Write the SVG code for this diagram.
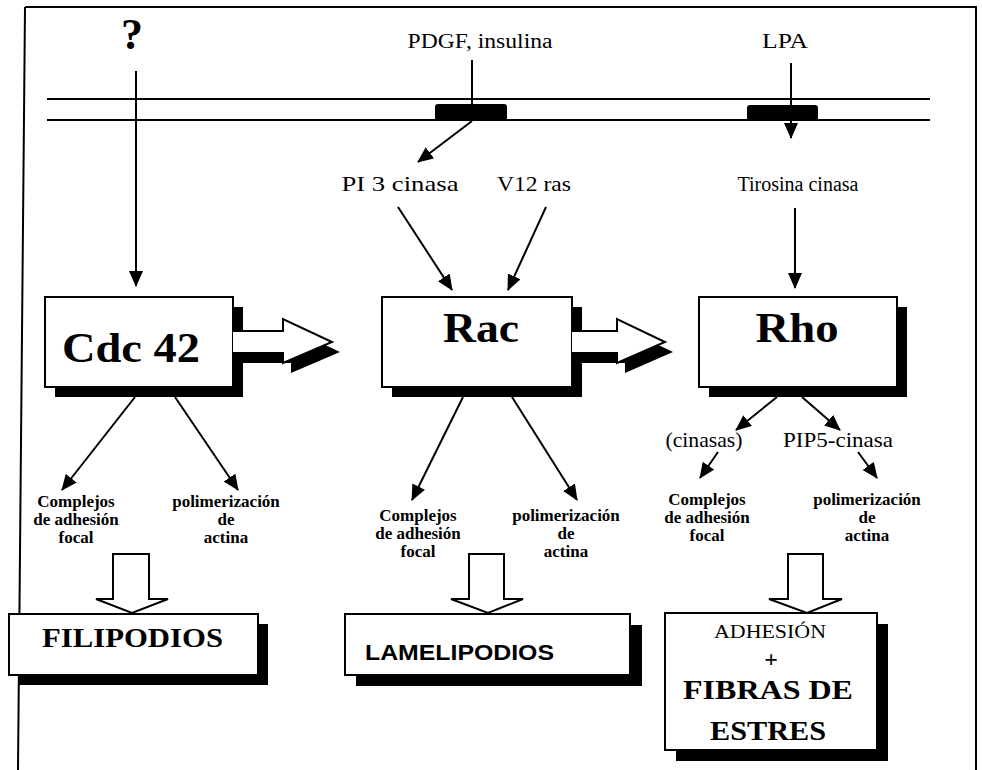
<svg xmlns="http://www.w3.org/2000/svg" width="982" height="770" viewBox="0 0 982 770">
<style>
.t{font-family:"Liberation Serif","Times New Roman",serif;fill:#000}
.b{font-weight:bold}
.s{font-family:"Liberation Sans",Arial,sans-serif;font-weight:900;fill:#000}
.m{text-anchor:middle}
.ln{stroke:#000;stroke-width:2;fill:none}
.box{fill:#fff;stroke:#000;stroke-width:2}
.sh{fill:#000}
.rc{fill:#000}
</style>
<defs>
<marker id="ah" markerUnits="userSpaceOnUse" markerWidth="16" markerHeight="14" refX="15" refY="7" orient="auto"><path d="M0,0 L16,7 L0,14 z" fill="#000"/></marker>
</defs>
<rect x="0" y="0" width="982" height="770" fill="#fff"/>
<g id="frame">
<path class="ln" d="M25,7 L976,7 L976,770 M25,7 L18,770"/>
</g>
<g id="membrane">
<line class="ln" x1="47" y1="99" x2="930" y2="99"/>
<line class="ln" x1="47" y1="120" x2="930" y2="120"/>
<rect class="rc" x="435" y="104" width="72" height="17" rx="3"/>
<rect class="rc" x="747" y="105" width="71" height="16" rx="3"/>
</g>
<g id="signals">
<text class="t b m" x="132" y="49" font-size="44">?</text>
<text class="t m" x="480" y="48" font-size="20" textLength="145" lengthAdjust="spacingAndGlyphs">PDGF, insulina</text>
<text class="t m" x="785" y="48" font-size="20" textLength="46" lengthAdjust="spacingAndGlyphs">LPA</text>
<text class="t m" x="400" y="191" font-size="21" textLength="117" lengthAdjust="spacingAndGlyphs">PI 3 cinasa</text>
<text class="t m" x="534" y="191" font-size="21" textLength="74" lengthAdjust="spacingAndGlyphs">V12 ras</text>
<text class="t m" x="798" y="191" font-size="20">Tirosina cinasa</text>
</g>
<g id="cdc42">
<rect class="sh" x="55" y="307" width="188" height="90"/>
<path class="sh" transform="translate(8,10)" d="M233,331 L283,331 L283,319 L332,342 L283,363 L283,353 L233,353 z"/>
<rect class="box" x="45" y="297" width="188" height="90"/>
<path d="M233,331 L283,331 L283,319 L332,342 L283,363 L283,353 L233,353 z" fill="#fff"/>
<path class="ln" d="M233,331 L283,331 L283,319 L332,342 L283,363 L283,353 L233,353"/>
<text class="t b m" x="131" y="362" font-size="42" textLength="138" lengthAdjust="spacingAndGlyphs">Cdc 42</text>
</g>
<g id="rac">
<rect class="sh" x="392" y="307" width="190" height="90"/>
<path class="sh" transform="translate(8,10)" d="M572,331 L617,331 L617,319 L665,342 L617,363 L617,353 L572,353 z"/>
<rect class="box" x="382" y="297" width="190" height="90"/>
<path d="M572,331 L617,331 L617,319 L665,342 L617,363 L617,353 L572,353 z" fill="#fff"/>
<path class="ln" d="M572,331 L617,331 L617,319 L665,342 L617,363 L617,353 L572,353"/>
<text class="t b m" x="481" y="342" font-size="42" textLength="76" lengthAdjust="spacingAndGlyphs">Rac</text>
</g>
<g id="rho">
<rect class="sh" x="709" y="307" width="198" height="90"/>
<rect class="box" x="699" y="297" width="198" height="90"/>
<text class="t b m" x="797" y="342" font-size="42" textLength="83" lengthAdjust="spacingAndGlyphs">Rho</text>
</g>
<g id="rho-labels">
<text class="t m" x="704" y="447" font-size="21" textLength="77" lengthAdjust="spacingAndGlyphs">(cinasas)</text>
<text class="t m" x="838" y="447" font-size="21" textLength="110" lengthAdjust="spacingAndGlyphs">PIP5-cinasa</text>
</g>
<g id="cdc42-effects" class="t b m" font-size="17">
<text x="76" y="507">Complejos</text>
<text x="76" y="525">de adhesión</text>
<text x="76" y="543">focal</text>
<text x="226" y="507">polimerización</text>
<text x="226" y="525">de</text>
<text x="226" y="543">actina</text>
</g>
<g id="rac-effects" class="t b m" font-size="17">
<text x="418" y="521">Complejos</text>
<text x="418" y="539">de adhesión</text>
<text x="418" y="557">focal</text>
<text x="566" y="521">polimerización</text>
<text x="566" y="539">de</text>
<text x="566" y="557">actina</text>
</g>
<g id="rho-effects" class="t b m" font-size="17">
<text x="707" y="505">Complejos</text>
<text x="707" y="523">de adhesión</text>
<text x="707" y="541">focal</text>
<text x="867" y="505">polimerización</text>
<text x="867" y="523">de</text>
<text x="867" y="541">actina</text>
</g>
<g id="filipodios">
<path class="box" d="M113,554 L149,554 L149,599 L168,599 L132,613 L96,599 L113,599 z"/>
<rect class="sh" x="19" y="624" width="249" height="61"/>
<rect class="box" x="9" y="614" width="249" height="61"/>
<text class="t b m" x="132.5" y="647" font-size="27" textLength="181" lengthAdjust="spacingAndGlyphs">FILIPODIOS</text>
</g>
<g id="lamelipodios">
<path class="box" d="M469,554 L504,554 L504,599 L523,599 L488,613 L451,599 L469,599 z"/>
<rect class="sh" x="356" y="625" width="286" height="61"/>
<rect class="box" x="345" y="614" width="285" height="61"/>
<text class="s" x="365" y="660" font-size="22" textLength="189" lengthAdjust="spacingAndGlyphs">LAMELIPODIOS</text>
</g>
<g id="fibras">
<path class="box" d="M788,554 L823,554 L823,599 L842,599 L807,613 L769,599 L788,599 z"/>
<rect class="sh" x="676" y="624" width="212" height="137"/>
<rect class="box" x="665" y="613" width="212" height="137"/>
<text class="t m" x="770" y="638" font-size="19" textLength="112" lengthAdjust="spacingAndGlyphs">ADHESIÓN</text>
<text class="t b m" x="771" y="667" font-size="24">+</text>
<text class="t b m" x="768" y="699" font-size="28" textLength="170" lengthAdjust="spacingAndGlyphs">FIBRAS DE</text>
<text class="t b m" x="768" y="740" font-size="28" textLength="116" lengthAdjust="spacingAndGlyphs">ESTRES</text>
</g>
<g id="connectors" class="ln">
<line x1="136" y1="71" x2="136" y2="286" marker-end="url(#ah)"/>
<line x1="472" y1="60" x2="472" y2="104"/>
<line x1="472" y1="121" x2="418" y2="162" marker-end="url(#ah)"/>
<line x1="791" y1="63" x2="791" y2="138" marker-end="url(#ah)"/>
<line x1="398" y1="207" x2="452" y2="290" marker-end="url(#ah)"/>
<line x1="546" y1="207" x2="508" y2="290" marker-end="url(#ah)"/>
<line x1="795" y1="208" x2="795" y2="288" marker-end="url(#ah)"/>
<line x1="135" y1="397" x2="62" y2="490" marker-end="url(#ah)"/>
<line x1="175" y1="397" x2="238" y2="490" marker-end="url(#ah)"/>
<line x1="463" y1="397" x2="412" y2="500" marker-end="url(#ah)"/>
<line x1="512" y1="397" x2="577" y2="500" marker-end="url(#ah)"/>
<line x1="777" y1="397" x2="736" y2="430" marker-end="url(#ah)"/>
<line x1="802" y1="397" x2="840" y2="430" marker-end="url(#ah)"/>
<line x1="718" y1="452" x2="700" y2="478" marker-end="url(#ah)"/>
<line x1="858" y1="452" x2="877" y2="478" marker-end="url(#ah)"/>
</g>
</svg>
